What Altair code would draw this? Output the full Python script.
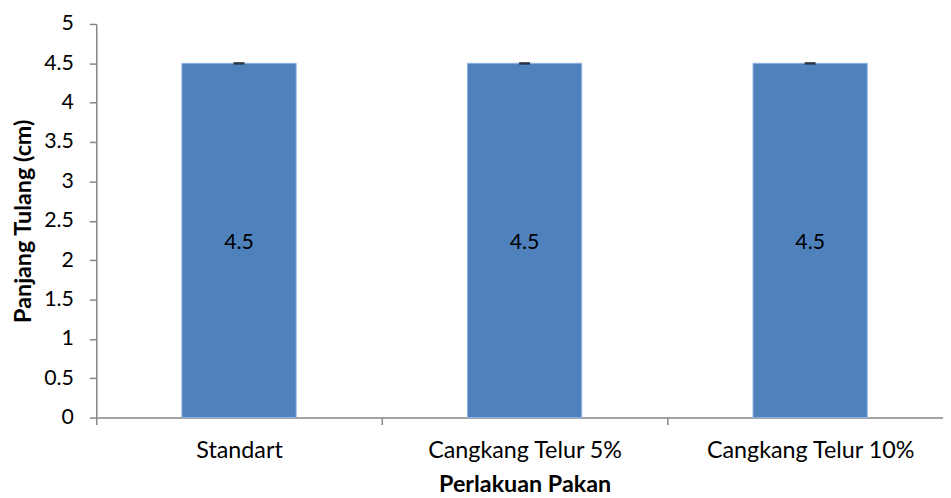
import altair as alt
import pandas as pd

categories = ["Standart", "Cangkang Telur 5%", "Cangkang Telur 10%"]
values = [4.5, 4.5, 4.5]
errors = [0.0, 0.0, 0.0]
labels = ["4.5", "4.5", "4.5"]
y_ticks = [0, 0.5, 1, 1.5, 2, 2.5, 3, 3.5, 4, 4.5, 5]

df = pd.DataFrame({
    "cat": categories,
    "val": values,
    "err_hi": [v + e for v, e in zip(values, errors)],
    "mid": [v / 2 for v in values],
    "lab": labels,
})

FONT = "Lato"

x = alt.X(
    "cat:N",
    sort=categories,
    scale=alt.Scale(range=[0, 864], paddingInner=0, paddingOuter=0),
    axis=alt.Axis(
        title="Perlakuan Pakan",
        labelAngle=0,
        tickBand="extent",
        tickSize=7,
        labelPadding=14,
        titlePadding=30,
        titleBaseline="alphabetic",
        labelFontSize=23.5,
        labelLimit=0,
    ),
)

y_scale = alt.Scale(domain=[0, 5])
y_axis = alt.Axis(
    title="Panjang Tulang (cm)",
    values=y_ticks,
    format="~g",
    grid=False,
    tickSize=7,
    labelPadding=16,
    titlePadding=8,
    labelFontSize=21.5,
    labelOverlap=False,
)

bars = alt.Chart(df).mark_bar(
    width=alt.RelativeBandSize(0.4),
    color="#4F81BD",
    stroke="#8DB3E2",
    strokeWidth=1,
).encode(
    x=x,
    y=alt.Y("val:Q", scale=y_scale, axis=y_axis),
)

caps = alt.Chart(df).mark_tick(
    color="black", size=11, thickness=2.5, orient="horizontal"
).encode(x=x, y=alt.Y("err_hi:Q", scale=y_scale, axis=y_axis))

texts = alt.Chart(df).mark_text(
    font=FONT, fontSize=21.5, color="black", dy=3
).encode(x=x, y=alt.Y("mid:Q", scale=y_scale, axis=y_axis), text="lab:N")

chart = alt.layer(bars, caps, texts).properties(
    width=854,
    height=397,
    autosize=alt.AutoSizeParams(type="none"),
    padding={"left": 89, "top": 14, "right": 0, "bottom": 79},
).configure_view(stroke=None).configure_axis(
    labelFont=FONT,
    titleFont=FONT,
    titleFontSize=23.5,
    labelColor="black",
    titleColor="black",
    labelFontWeight="normal",
    titleFontWeight="bold",
    domainColor="#868686",
    tickColor="#868686",
    domainWidth=1.5,
    tickWidth=1.5,
)

chart.save("out.html", embed_options={"renderer": "svg", "actions": False})
